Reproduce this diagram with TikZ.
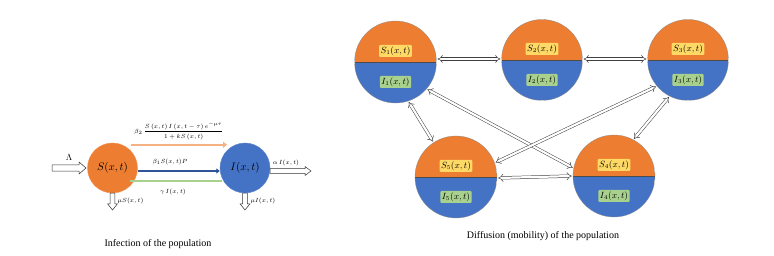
\documentclass[tikz,border=0pt]{standalone}
\usepackage{fontspec}
\setmainfont{Liberation Serif}
\usetikzlibrary{arrows.meta,calc}
\definecolor{sor}{HTML}{ED7D31}
\definecolor{sbl}{HTML}{4472C4}
\definecolor{lor}{HTML}{F4B183}
\definecolor{dbl}{HTML}{2F5597}
\definecolor{lgr}{HTML}{A9D18E}
\definecolor{ylw}{HTML}{FFD966}
% horizontal hollow block arrow pointing right: {from}{to}{shaft half}{head half}{head length}
\newcommand\myharrow[5]{\draw[blkarrow] let \p1=(#1), \p2=(#2) in
  (\x1,\y1+#3) -- (\x2-#5,\y1+#3) -- (\x2-#5,\y1+#4) -- (\x2,\y1) -- (\x2-#5,\y1-#4) -- (\x2-#5,\y1-#3) -- (\x1,\y1-#3) -- cycle;}
% vertical hollow block arrow pointing down
\newcommand\myvarrow[5]{\draw[blkarrow] let \p1=(#1), \p2=(#2) in
  (\x1+#3,\y1) -- (\x1+#3,\y2+#5) -- (\x1+#4,\y2+#5) -- (\x1,\y2) -- (\x1-#4,\y2+#5) -- (\x1-#3,\y2+#5) -- (\x1-#3,\y1) -- cycle;}
\begin{document}
\begin{tikzpicture}[x=1pt,y=1pt,
 halfcirc/.style={circle, minimum size=82pt, inner sep=0pt, draw=black!45, line width=0.3pt,
   path picture={
   \fill[sor] (path picture bounding box.north west) rectangle (path picture bounding box.east);
   \fill[sbl] (path picture bounding box.south west) rectangle (path picture bounding box.east);
   \draw[black!70, line width=0.4pt] (path picture bounding box.west) -- (path picture bounding box.east);}},
 slab/.style={fill=ylw, inner sep=1.5pt, font=\fontsize{9}{10}\selectfont, rounded corners=1pt},
 ilab/.style={fill=lgr, inner sep=1.5pt, font=\fontsize{9}{10}\selectfont, rounded corners=1pt},
 dar/.style={double, double distance=2.2pt, line width=0.5pt, draw=black!75, {Implies}-{Implies}, shorten >=1pt, shorten <=1pt},
 blkarrow/.style={draw=black!80, line width=0.5pt, fill=white, line join=miter},
 popnode/.style={circle, minimum size=50pt, inner sep=0pt, font=\fontsize{11}{12}\selectfont},
 smlab/.style={font=\fontsize{6}{7}\selectfont, inner sep=0.5pt},
 captext/.style={font=\fontsize{10}{12}\selectfont}
]
\useasboundingbox (0,0) rectangle (774,256);

% ---------- left: infection ----------
\node[popnode, fill=sor, draw=sor!85!white] (S) at (112.5,88) {$S(x,t)$};
\node[popnode, fill=sbl, draw=sbl!85!white] (I) at (245,88) {$I(x,t)$};

\coordinate (lam) at (52,88);
\coordinate (lamend) at (86,88);
\myharrow{lam}{lamend}{3.2}{6}{7}
\node[font=\fontsize{9}{10}\selectfont] (lamlab) at (69,99) {$\Lambda$};

\draw[lor, line width=2.2pt, -{Triangle[width=6pt,length=4pt]}] ([xshift=18pt,yshift=-2pt]S.north) -- ([xshift=-18pt,yshift=-2pt]I.north);
\draw[dbl, line width=1.6pt, -{Triangle[width=5pt,length=3.5pt]}] ([yshift=-3pt]S.east) -- ([yshift=-3pt]I.west);
\draw[lgr, line width=1.4pt] ([xshift=17.5pt,yshift=12pt]S.south) -- ([xshift=-23pt,yshift=12pt]I.south);

\node[smlab, font=\fontsize{6.5}{7}\selectfont] (flab) at (179,125) {$\beta_2\,\displaystyle\frac{S\,(x,t)\,I\,(x,t-\tau)\,e^{-\mu\tau}}{1+kS\,(x,t)}$};
\node[smlab] (b1lab) at (170,94) {$\beta_1 S(x,t)P$};
\node[smlab] (glab) at (173,64) {$\gamma\, I(x,t)$};

\coordinate (sd) at (112.5,46);
\coordinate (id) at (245,46);
\myvarrow{S.south}{sd}{2.3}{4.8}{6}
\myvarrow{I.south}{id}{2.3}{4.8}{6}
\node[smlab, anchor=west] (msl) at (117,55) {$\mu S(x,t)$};
\node[smlab, anchor=west] (mil) at (250,55) {$\mu I(x,t)$};

\coordinate (as) at ([yshift=-3pt]I.east);
\coordinate (ae) at (311,85);
\myharrow{as}{ae}{2.3}{4.5}{6}
\node[smlab] (alab) at (286,93) {$\alpha\, I(x,t)$};

\node[captext] (cap1) at (158,12) {Infection of the population};

% ---------- right: diffusion ----------
\node[halfcirc] (c1) at (395.5,194) {};
\node[halfcirc, minimum size=81pt] (c2) at (542,196) {};
\node[halfcirc, minimum size=81pt] (c3) at (688,196) {};
\node[halfcirc] (c5) at (456,79) {};
\node[halfcirc] (c4) at (614,80) {};

\foreach \i in {1,2,3,4,5}{
  \node[slab] (s\i) at ([yshift=11pt]c\i.center) {$S_{\i}(x,t)$};
  \node[ilab] (i\i) at ([yshift=-20pt]c\i.center) {$I_{\i}(x,t)$};
}

\draw[dar] ([yshift=3pt]c1.east) -- ([yshift=1pt]c2.west);
\draw[dar] ([yshift=1pt]c2.east) -- ([yshift=1pt]c3.west);
\draw[dar] ([yshift=-1pt]c5.east) -- (c4.west);
\draw[dar] (c1.-72) -- (c5.123);
\draw[dar] (c1.-41) -- (c4.169);
\draw[dar] (c3.220) -- (c5.20);
\draw[dar] (c3.243) -- (c4.62);

\node[captext] (cap2) at (543,20) {Diffusion (mobility) of the population};
\end{tikzpicture}
\end{document}
